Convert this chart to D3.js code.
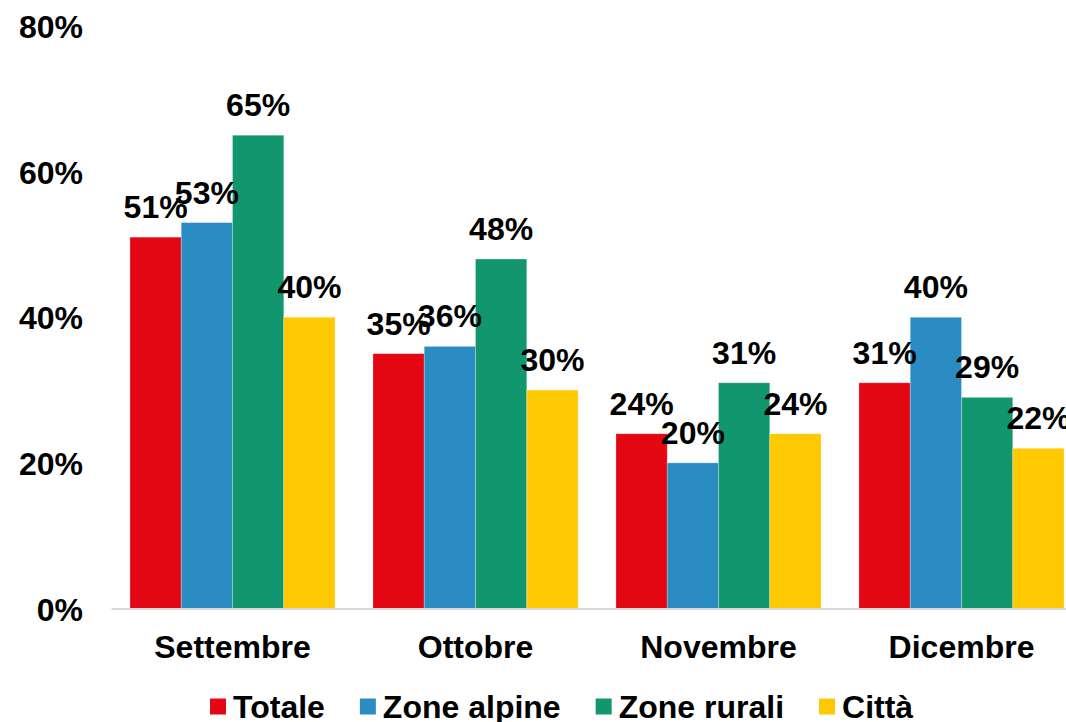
<!DOCTYPE html>
<html>
<head>
<meta charset="utf-8">
<title></title>
<script src="https://d3js.org/d3.v7.min.js"></script>
<style>
  body { margin: 0; background: #fff; }
  svg { display: block; font-family: "Liberation Sans", Arial, sans-serif; font-weight: bold; }
</style>
</head>
<body>
<script>
// data
const months = ["Settembre", "Ottobre", "Novembre", "Dicembre"]
const series = ["Totale", "Zone alpine", "Zone rurali", "Città"]
const totale     = [0.51, 0.35, 0.24, 0.31]
const zoneAlpine = [0.53, 0.36, 0.20, 0.40]
const zoneRurali = [0.65, 0.48, 0.31, 0.29]
const citta      = [0.40, 0.30, 0.24, 0.22]
const yTicks = [0, 0.2, 0.4, 0.6, 0.8]

const colors = ["#e30613", "#2a8cc2", "#12966e", "#ffc901"]
const values = [totale, zoneAlpine, zoneRurali, citta]

const W = 1066, H = 722
const fs = 32

const svg = d3.select("body").append("svg")
  .attr("width", W).attr("height", H)

const x = d3.scaleBand()
  .domain(months)
  .range([111, 1083])
  .paddingInner(0.156)
  .paddingOuter(0.078)

const x1 = d3.scaleBand()
  .domain(series)
  .range([0, x.bandwidth()])

const y = d3.scaleLinear()
  .domain([0, 0.8])
  .range([608.5, 26])

// y axis labels
const yAxis = svg.append("g")
  .attr("transform", "translate(83,0)")
  .call(d3.axisLeft(y).tickValues(yTicks).tickFormat(d3.format(".0%")).tickSize(0).tickPadding(0))
yAxis.select(".domain").remove()
yAxis.selectAll("text")
  .attr("dy", "0.36em")
  .attr("font-size", fs).attr("font-family", "Liberation Sans, Arial").attr("font-weight", "bold")
  .attr("fill", "#000")

// bars
const groups = svg.append("g").selectAll("g")
  .data(months)
  .join("g")
  .attr("transform", d => `translate(${x(d)},0)`)

groups.selectAll("rect")
  .data((m, i) => series.map((s, j) => ({ s: s, v: values[j][i], c: colors[j] })))
  .join("rect")
  .attr("x", d => x1(d.s))
  .attr("width", x1.bandwidth())
  .attr("y", d => y(d.v))
  .attr("height", d => y(0) - y(d.v))
  .attr("fill", d => d.c)
  .attr("stroke", "#fff")
  .attr("stroke-opacity", 0.35)
  .attr("stroke-width", 0.8)

// x axis
const xAxis = svg.append("g")
  .attr("transform", "translate(0,608.5)")
  .call(d3.axisBottom(x).tickSize(0).tickSizeOuter(0))
xAxis.select(".domain").attr("stroke", "#d9d9d9").attr("stroke-width", 2)
xAxis.selectAll("text")
  .attr("dy", null).attr("y", 49.5)
  .attr("font-size", fs).attr("font-family", "Liberation Sans, Arial").attr("font-weight", "bold")
  .attr("fill", "#000")

// value labels
groups.selectAll("text.val")
  .data((m, i) => series.map((s, j) => ({ s: s, v: values[j][i] })))
  .join("text")
  .attr("class", "val")
  .attr("x", d => x1(d.s) + x1.bandwidth() / 2)
  .attr("y", d => y(d.v) - 19)
  .attr("text-anchor", "middle")
  .attr("font-size", fs)
  .attr("fill", "#000")
  .text(d => d3.format(".0%")(d.v))

// legend
const legend = svg.append("g")
let lx = 210
series.forEach((s, i) => {
  legend.append("rect")
    .attr("x", lx).attr("y", 698.5)
    .attr("width", 16).attr("height", 16)
    .attr("fill", colors[i])
  const t = legend.append("text")
    .attr("x", lx + 23).attr("y", 718)
    .attr("font-size", fs)
    .attr("fill", "#000")
    .text(s)
  lx = lx + 23 + t.node().getComputedTextLength() + 35
})
</script>
</body>
</html>
